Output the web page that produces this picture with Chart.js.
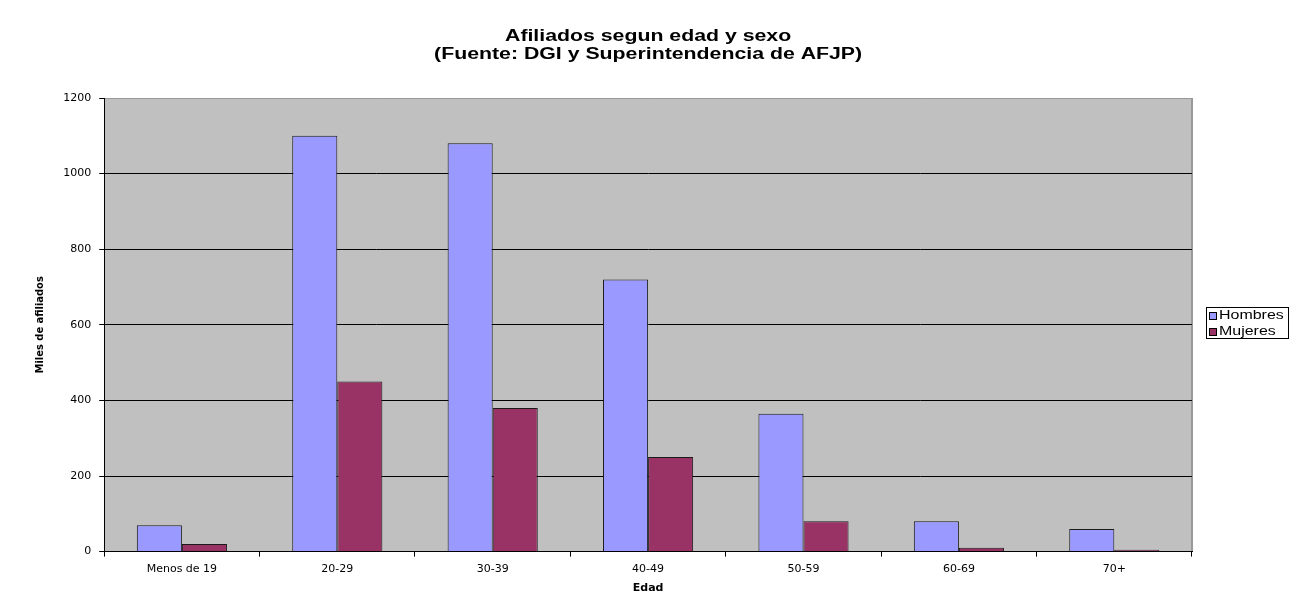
<!DOCTYPE html>
<html>
<head>
<meta charset="utf-8">
<script src="https://cdn.jsdelivr.net/npm/chart.js@4.4.0/dist/chart.umd.min.js"></script>
<style>
  html, body { margin: 0; padding: 0; background: #ffffff; }
  #wrap { width: 1290px; height: 607px; position: relative; }
</style>
</head>
<body>
<div id="wrap"><canvas id="myChart" width="1290" height="607"></canvas></div>
<script>
// values (miles de afiliados)
var categories = ["Menos de 19", "20-29", "30-39", "40-49", "50-59", "60-69", "70+"];
var hombres = [70, 1100, 1080, 720, 365, 80, 60];
var mujeres = [20, 450, 380, 250, 80, 10, 5];
var yTicks = [0, 200, 400, 600, 800, 1000, 1200];
var titleLines = ["Afiliados segun edad y sexo", "(Fuente: DGI y Superintendencia de AFJP)"];

// grey plot area + light frame on the right
var plotBackground = {
  id: "plotBackground",
  beforeDraw: function (chart) {
    var ctx = chart.ctx, a = chart.chartArea;
    ctx.save();
    ctx.fillStyle = "#c0c0c0";
    ctx.fillRect(a.left, a.top, a.right - a.left, a.bottom - a.top);
    ctx.strokeStyle = "#999999";
    ctx.lineWidth = 2;
    ctx.beginPath();
    ctx.moveTo(a.right, a.top);
    ctx.lineTo(a.right, a.bottom);
    ctx.stroke();
    ctx.restore();
  }
};

// the old excel look: wide bold title, drawn stretched
var wideTitle = {
  id: "wideTitle",
  afterDraw: function (chart) {
    var ctx = chart.ctx, a = chart.chartArea;
    var cx = (a.left + a.right) / 2;
    ctx.save();
    ctx.fillStyle = "#000000";
    ctx.font = "bold 16px Arial, 'Liberation Sans', sans-serif";
    ctx.textAlign = "center";
    ctx.textBaseline = "middle";
    for (var i = 0; i < titleLines.length; i++) {
      ctx.save();
      ctx.translate(cx, 37 + i * 18);
      ctx.scale(1.33, 1);
      ctx.fillText(titleLines[i], 0, 0);
      ctx.restore();
    }
    ctx.restore();
  }
};

// boxed legend to the right of the plot
var boxLegend = {
  id: "boxLegend",
  afterDraw: function (chart) {
    var ctx = chart.ctx;
    var x = 1206, y = 307, w = 83, h = 32;
    ctx.save();
    ctx.fillStyle = "#ffffff";
    ctx.fillRect(x, y, w, h);
    ctx.strokeStyle = "#000000";
    ctx.lineWidth = 1;
    ctx.strokeRect(x + 0.5, y + 0.5, w - 1, h - 1);
    ctx.font = "12px Arial, 'Liberation Sans', sans-serif";
    ctx.textBaseline = "middle";
    chart.data.datasets.forEach(function (ds, i) {
      var cy = y + 9 + i * 16;
      ctx.fillStyle = ds.backgroundColor;
      ctx.fillRect(x + 3, cy - 4, 8, 8);
      ctx.strokeStyle = "#000000";
      ctx.strokeRect(x + 3.5, cy - 3.5, 7, 7);
      ctx.fillStyle = "#000000";
      ctx.save();
      ctx.translate(x + 13, cy);
      ctx.scale(1.33, 1);
      ctx.fillText(ds.label, 0, 0);
      ctx.restore();
    });
    ctx.restore();
  }
};

var canvas = document.getElementById("myChart");
var myChart = new Chart(canvas, {
  type: "bar",
  data: {
    labels: categories,
    datasets: [
      {
        label: "Hombres",
        data: hombres,
        backgroundColor: "#9999ff",
        borderColor: "#1a1a1a",
        borderWidth: 1
      },
      {
        label: "Mujeres",
        data: mujeres,
        backgroundColor: "#993366",
        borderColor: "#1a1a1a",
        borderWidth: 1
      }
    ]
  },
  options: {
    responsive: false,
    animation: false,
    layout: { padding: { top: 98, right: 98, bottom: 12, left: 34 } },
    datasets: { bar: { barPercentage: 1.0, categoryPercentage: 0.58 } },
    plugins: {
      title: { display: false },
      legend: { display: false },
      tooltip: { enabled: false }
    },
    scales: {
      x: {
        grid: { drawOnChartArea: false, drawTicks: true, tickLength: 5, color: "#000000", offset: true },
        border: { color: "#000000" },
        ticks: { color: "#000000", font: { family: "'DejaVu Sans', sans-serif", size: 11 }, padding: 6 },
        title: {
          display: true,
          text: "Edad",
          color: "#000000",
          font: { family: "'DejaVu Sans', sans-serif", size: 11, weight: "bold" },
          padding: { top: 0, bottom: 0 }
        }
      },
      y: {
        min: 0,
        max: 1200,
        afterBuildTicks: function (axis) {
          axis.ticks = yTicks.map(function (v) { return { value: v }; });
        },
        grid: {
          color: function (c) { return c.tick && c.tick.value === 1200 ? "#999999" : "#000000"; },
          tickLength: 5,
          tickColor: "#000000"
        },
        border: { color: "#000000" },
        ticks: {
          color: "#000000",
          font: { family: "'DejaVu Sans', sans-serif", size: 11 },
          padding: 8,
          callback: function (v) { return String(v); }
        },
        title: {
          display: true,
          text: "Miles de afiliados",
          color: "#000000",
          font: { family: "'Liberation Sans Narrow', 'DejaVu Sans Condensed', Arial, sans-serif", size: 11, weight: "bold" },
          padding: { top: 0, bottom: 8 }
        }
      }
    }
  },
  plugins: [plotBackground, wideTitle, boxLegend]
});
</script>
</body>
</html>
